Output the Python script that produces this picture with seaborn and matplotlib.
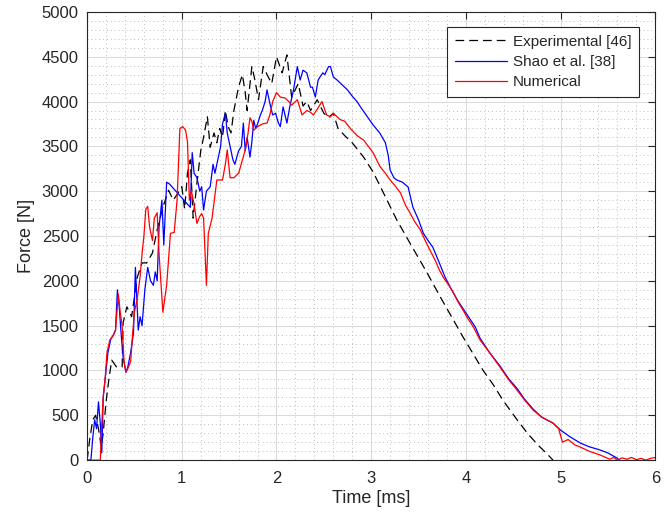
import numpy as np
import pandas as pd
import matplotlib
matplotlib.use("Agg")
import matplotlib.pyplot as plt
from matplotlib.ticker import MultipleLocator
import seaborn as sns

# ---------------- data ----------------
exp_t = [0.0, 0.03, 0.06, 0.09, 0.12, 0.15, 0.17, 0.20, 0.23, 0.26, 0.31, 0.37, 0.38, 0.42,
         0.47, 0.53, 0.58, 0.63, 0.69, 0.74, 0.80, 0.86, 0.91, 0.96, 1.00, 1.03, 1.06, 1.09,
         1.12, 1.16, 1.20, 1.23, 1.27, 1.30, 1.34, 1.37, 1.40, 1.43, 1.46, 1.49, 1.52, 1.55,
         1.60, 1.64, 1.67, 1.69, 1.74, 1.77, 1.81, 1.86, 1.91, 1.95, 2.00, 2.06, 2.11, 2.14,
         2.16, 2.23, 2.28, 2.32, 2.36, 2.43, 2.50, 2.55, 2.60, 2.65, 2.72, 2.80, 2.92, 3.02,
         3.13, 3.27, 3.41, 3.59, 3.73, 3.87, 3.97, 4.08, 4.18, 4.29, 4.39, 4.52, 4.65, 4.76,
         4.87, 4.92]
exp_f = [0, 250, 450, 500, 350, 150, 300, 650, 900, 1115, 1040, 1040, 1530, 1710,
         1600, 2040, 2200, 2200, 2310, 2570, 2820, 3010, 2900, 2980, 3050, 2800, 3200, 3350,
         2700, 3090, 3450, 3600, 3830, 3490, 3650, 3540, 3700, 3600, 3900, 3720, 3650, 3900,
         4165, 4300, 4100, 3900, 4390, 4250, 4020, 4390, 4280, 4200, 4500, 4320, 4520, 4240,
         4050, 4200, 3950, 4000, 3900, 4020, 3870, 3820, 3870, 3700, 3620, 3540, 3380, 3215,
         2980, 2680, 2420, 2090, 1820, 1560, 1373, 1180, 1004, 840, 670, 480, 300, 170,
         56, 0]

shao_t = [0.0, 0.04, 0.06, 0.08, 0.10, 0.12, 0.14, 0.155, 0.17, 0.20, 0.22, 0.25, 0.28, 0.30,
          0.32, 0.34, 0.36, 0.38, 0.41, 0.43, 0.46, 0.49, 0.51, 0.54, 0.56, 0.58, 0.61, 0.64,
          0.67, 0.70, 0.72, 0.74, 0.76, 0.79, 0.81, 0.84, 0.87, 1.09, 1.11, 1.13, 1.16, 1.19,
          1.21, 1.23, 1.26, 1.30, 1.33, 1.35, 1.38, 1.41, 1.43, 1.46, 1.48, 1.51, 1.54, 1.56,
          1.60, 1.63, 1.65, 1.67, 1.69, 1.72, 1.74, 1.76, 1.78, 1.80, 1.83, 1.85, 1.88, 1.90,
          1.93, 1.96, 1.99, 2.02, 2.04, 2.07, 2.11, 2.14, 2.18, 2.22, 2.25, 2.28, 2.32, 2.36,
          2.38, 2.41, 2.44, 2.46, 2.49, 2.51, 2.55, 2.57, 2.60, 2.64, 2.70, 2.75, 2.80, 2.85,
          2.90, 2.96, 3.02, 3.09, 3.15, 3.18, 3.20, 3.24, 3.27, 3.33, 3.39, 3.44, 3.50, 3.55,
          3.60, 3.65, 3.72, 3.78, 3.85, 3.91, 3.97, 4.04, 4.10, 4.15, 4.25, 4.36, 4.45, 4.54,
          4.62, 4.71, 4.80, 4.92, 5.00, 5.10, 5.21, 5.30, 5.42, 5.50, 5.55, 5.60, 5.62]
shao_f = [0, 0, 250, 450, 350, 650, 400, 80, 700, 1000, 1200, 1350, 1400, 1450,
          1900, 1700, 1400, 1150, 980, 1040, 1200, 1420, 2150, 1450, 1600, 1500, 1900, 2150,
          2000, 1950, 2100, 2000, 2600, 2900, 2400, 3100, 3080, 2820, 3430, 3200, 3150, 3000,
          3050, 2790, 3000, 3050, 3300, 3200, 3350, 3500, 3750, 3870, 3650, 3500, 3350, 3300,
          3450, 3500, 3760, 3450, 3600, 3380, 3550, 3790, 3700, 3750, 3850, 3900, 4000, 4130,
          3980, 3850, 3870, 3760, 3720, 3940, 3760, 3940, 4130, 4390, 4240, 4350, 4320, 4160,
          4160, 4050, 4240, 4275, 4320, 4300, 4390, 4390, 4275, 4240, 4180, 4130, 4060, 4000,
          3920, 3830, 3740, 3650, 3540, 3400, 3236, 3150, 3125, 3100, 3047, 2823, 2680, 2533,
          2450, 2377, 2200, 2042, 1900, 1786, 1690, 1580, 1484, 1360, 1200, 1050, 910, 800,
          680, 570, 480, 413, 335, 260, 190, 150, 112, 80, 50, 22, 0]

num_t = [0.0, 0.14, 0.15, 0.17, 0.19, 0.21, 0.24, 0.27, 0.30, 0.33, 0.35, 0.37, 0.39, 0.41,
         0.43, 0.46, 0.48, 0.50, 0.53, 0.56, 0.58, 0.60, 0.62, 0.64, 0.66, 0.69, 0.71, 0.74,
         0.76, 0.80, 0.84, 0.88, 0.92, 0.95, 0.98, 1.01, 1.04, 1.06, 1.08, 1.10, 1.13, 1.16,
         1.19, 1.21, 1.23, 1.26, 1.28, 1.32, 1.35, 1.37, 1.43, 1.46, 1.48, 1.51, 1.55, 1.60,
         1.64, 1.67, 1.70, 1.72, 1.74, 1.76, 1.80, 1.85, 1.90, 1.93, 1.96, 2.00, 2.04, 2.09,
         2.13, 2.16, 2.22, 2.27, 2.32, 2.36, 2.39, 2.44, 2.48, 2.53, 2.57, 2.60, 2.67, 2.72,
         2.78, 2.85, 2.92, 2.97, 3.02, 3.09, 3.15, 3.20, 3.26, 3.31, 3.36, 3.41, 3.46, 3.52,
         3.57, 3.62, 3.68, 3.72, 3.76, 3.82, 3.87, 3.92, 3.97, 4.02, 4.08, 4.15, 4.25, 4.36,
         4.45, 4.54, 4.62, 4.71, 4.80, 4.92, 4.98, 5.02, 5.08, 5.15, 5.21, 5.30, 5.42, 5.52,
         5.56, 5.60, 5.65, 5.70, 5.75, 5.80, 5.85, 5.90, 5.95, 6.00]
num_f = [0, 0, 300, 700, 900, 1200, 1340, 1380, 1450, 1850, 1650, 1500, 1100, 980,
         1020, 1100, 1400, 1650, 1800, 2050, 2300, 2500, 2800, 2830, 2600, 2450, 2700, 2760,
         2300, 1650, 1950, 2530, 2540, 2900, 3700, 3720, 3680, 3550, 2900, 3010, 2850, 2640,
         2720, 2750, 2700, 1950, 2530, 2700, 2950, 3125, 3125, 3300, 3460, 3150, 3150, 3200,
         3350, 3460, 3650, 3820, 3780, 3680, 3720, 3750, 3760, 3850, 4000, 4100, 4050, 4040,
         4000, 3960, 4020, 3850, 3900, 3880, 3850, 3930, 4000, 3850, 3830, 3870, 3800, 3780,
         3700, 3620, 3570, 3500, 3430, 3280, 3200, 3125, 3050, 2980, 2850, 2757, 2660, 2567,
         2450, 2344, 2220, 2120, 2042, 1950, 1864, 1760, 1674, 1580, 1484, 1339, 1200, 1038,
         900, 781, 670, 558, 480, 413, 350, 200, 230, 170, 145, 100, 56, 10,
         30, 0, 25, 10, 30, 5, 20, 0, 20, 30]

labels = ["Experimental [46]", "Shao et al. [38]", "Numerical"]
x_ticks = [0, 1, 2, 3, 4, 5, 6]
y_ticks = list(range(0, 5001, 500))

# ---------------- figure ----------------
sns.set_theme(style="white")
plt.rcParams["font.family"] = ["Liberation Sans", "DejaVu Sans"]

fig = plt.figure(figsize=(6.70, 5.17), dpi=100)
ax = fig.add_axes([0.130, 0.110, 0.848, 0.867])

dark = "#262626"
ax.set_axisbelow(True)
ax.xaxis.set_minor_locator(MultipleLocator(0.2))
ax.yaxis.set_minor_locator(MultipleLocator(100))
ax.grid(which="major", color="#dcdcdc", lw=0.8, ls="-")
ax.grid(which="minor", color="#bdbdbd", lw=0.7, ls=(0, (1, 3)))

df_e = pd.DataFrame({"t": exp_t, "F": exp_f})
df_s = pd.DataFrame({"t": shao_t, "F": shao_f})
df_n = pd.DataFrame({"t": num_t, "F": num_f})

sns.lineplot(data=df_e, x="t", y="F", ax=ax, color="black", lw=0.9,
             linestyle=(0, (7, 4)), estimator=None, sort=False, label=labels[0])
sns.lineplot(data=df_s, x="t", y="F", ax=ax, color="#0000ff", lw=0.9,
             estimator=None, sort=False, label=labels[1])
sns.lineplot(data=df_n, x="t", y="F", ax=ax, color="#ff0000", lw=0.9,
             estimator=None, sort=False, label=labels[2])

ax.set_xlim(0, 6)
ax.set_ylim(0, 5000)
ax.set_xticks(x_ticks)
ax.set_yticks(y_ticks)
ax.set_xticklabels([str(v) for v in x_ticks])
ax.set_yticklabels([str(v) for v in y_ticks])
ax.set_xlabel("Time [ms]", fontsize=13, color=dark, labelpad=3)
ax.set_ylabel("Force [N]", fontsize=13, color=dark, labelpad=5)

ax.tick_params(which="major", direction="in", length=5, width=0.8,
               top=True, right=True, labelsize=12, colors=dark)
ax.tick_params(axis="x", which="major", pad=8)
ax.tick_params(axis="y", which="major", pad=6)
ax.tick_params(which="minor", length=0)
for s in ax.spines.values():
    s.set_color(dark)
    s.set_linewidth(0.8)
    s.set_visible(True)

leg = ax.legend(loc="upper right", fontsize=11, frameon=True, fancybox=False,
                edgecolor=dark, framealpha=1, handlelength=3.4,
                borderpad=0.5, labelspacing=0.42, handletextpad=0.4,
                borderaxespad=0.0, bbox_to_anchor=(0.972, 0.9665))
leg.get_frame().set_linewidth(0.8)

fig.savefig("out.png", dpi=100)
